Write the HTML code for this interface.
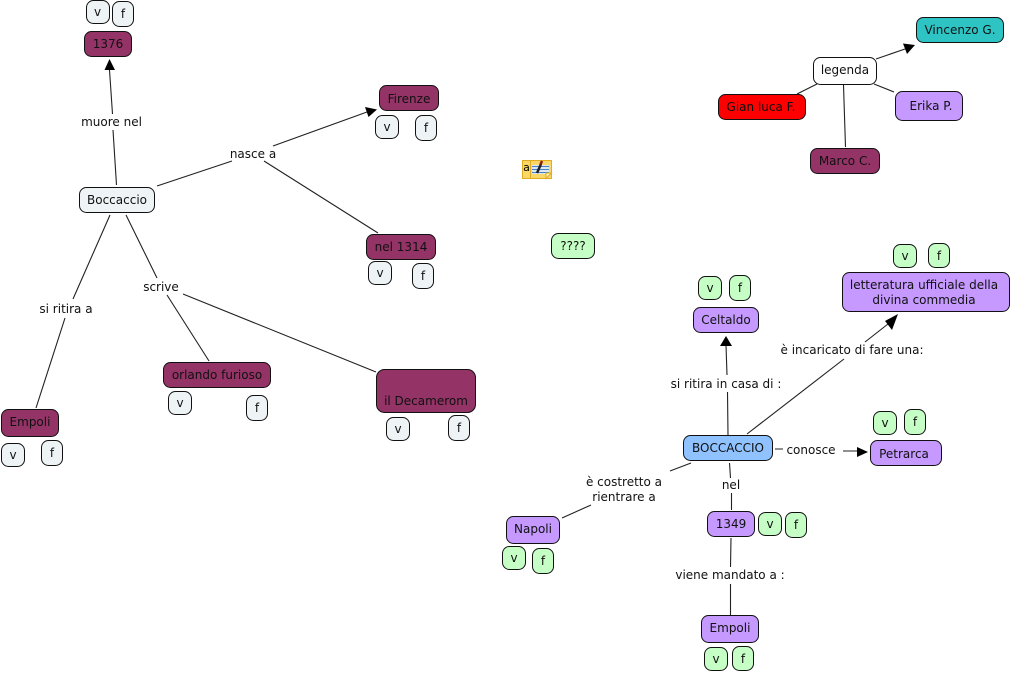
<!DOCTYPE html>
<html><head><meta charset="utf-8"><style>
html,body{margin:0;padding:0;background:#fff;width:1011px;height:673px;overflow:hidden}
svg{display:block}
text{font-family:"DejaVu Sans","Liberation Sans",sans-serif;font-size:12px;fill:#111;text-anchor:middle}
rect{stroke:#111;stroke-width:1}
.l{stroke:#222;stroke-width:1.1;fill:none}
.p{fill:#933366}.w{fill:#eef4f6}.g{fill:#c6ffc6}.u{fill:#c599ff}.b{fill:#8fc2ff}
</style></head><body>
<svg width="1011" height="673" viewBox="0 0 1011 673" xmlns="http://www.w3.org/2000/svg">
<g class="l">
<path d="M116.500 185L113 130M112.500 114L109.500 70"/>
<path d="M157 186L232 161M273 146L367 112"/>
<path d="M264 161L378 233"/>
<path d="M110 215L73 299M65 318L36 408"/>
<path d="M126 215L157 278M167 295L209 361"/>
<path d="M183 294L376 372"/>
<path d="M797 94L817 84M874 84L894 92M843.500 85L845.500 147M876 59L905 49"/>
<path d="M728 435L727.500 392M727 375L726 345"/>
<path d="M747 434L844 359M865 342L888 324"/>
<path d="M775 449L783 449M843 451L858 451"/>
<path d="M691 463L670 471M591 505L562 518"/>
<path d="M729.500 463L730.500 478M731.500 493L731.500 510"/>
<path d="M731 538L730.500 567M730.500 584L730.500 615"/>
</g>
<g fill="#000">
<polygon points="109.500,59 104.500,70 115,70"/>
<polygon points="377,109.500 365,107 368.500,117"/>
<polygon points="915,45 903,43.500 907,54"/>
<polygon points="726,336 720,346 732,346"/>
<polygon points="898,314 885,321 892,330"/>
<polygon points="868,452 857,447 857,457"/>
</g>
<rect class="w" x="86.500" y="0.500" width="23" height="23" rx="7"/><text x="97.500" y="16">v</text>
<rect class="w" x="112.500" y="1.500" width="21" height="25" rx="7"/><text x="123" y="18">f</text>
<rect class="p" x="84.500" y="31.500" width="47" height="25" rx="7"/><text x="108" y="48">1376</text>
<rect class="w" x="79.500" y="187.500" width="75" height="25" rx="7"/><text x="117" y="204">Boccaccio</text>
<rect class="p" x="379.500" y="85.500" width="59" height="25" rx="7"/><text x="409" y="103">Firenze</text>
<rect class="w" x="375.500" y="115.500" width="23" height="23" rx="7"/><text x="387" y="131">v</text>
<rect class="w" x="415.500" y="115.500" width="21" height="25" rx="7"/><text x="426" y="132">f</text>
<rect class="p" x="366.500" y="234.500" width="69" height="25" rx="7"/><text x="401" y="251">nel 1314</text>
<rect class="w" x="368.500" y="261.500" width="23" height="23" rx="7"/><text x="380" y="277">v</text>
<rect class="w" x="412.500" y="263.500" width="21" height="25" rx="7"/><text x="423" y="280">f</text>
<rect class="p" x="1.500" y="409.500" width="57" height="27" rx="7"/><text x="30" y="426">Empoli</text>
<rect class="w" x="1.500" y="443.500" width="23" height="23" rx="7"/><text x="13" y="459">v</text>
<rect class="w" x="41.500" y="440.500" width="21" height="25" rx="7"/><text x="52" y="457">f</text>
<rect class="p" x="163.500" y="362.500" width="107" height="25" rx="7"/><text x="217" y="379">orlando furioso</text>
<rect class="w" x="168.500" y="391.500" width="23" height="23" rx="7"/><text x="180" y="407">v</text>
<rect class="w" x="246.500" y="395.500" width="21" height="25" rx="7"/><text x="257" y="412">f</text>
<rect class="p" x="376.500" y="369.500" width="99" height="43" rx="8"/><text x="426" y="405">il Decamerom</text>
<rect class="w" x="386.500" y="417.500" width="23" height="23" rx="7"/><text x="398" y="433">v</text>
<rect class="w" x="448.500" y="415.500" width="21" height="25" rx="7"/><text x="459" y="432">f</text>
<rect class="g" x="551.500" y="233.500" width="43" height="25" rx="7"/><text x="573" y="250">????</text>
<rect fill="#fff" x="813.500" y="57.500" width="63" height="27" rx="7"/><text x="845" y="74">legenda</text>
<rect fill="#2fc4c4" x="916.500" y="17.500" width="87" height="25" rx="7"/><text x="960" y="34">Vincenzo G.</text>
<rect fill="#ff0000" x="718.500" y="94.500" width="87" height="25" rx="7"/><text x="761" y="111">Gian luca F.</text>
<rect class="u" x="895.500" y="91.500" width="67" height="29" rx="7"/><text x="931" y="110">Erika P.</text>
<rect class="p" x="810.500" y="148.500" width="69" height="25" rx="7"/><text x="845" y="165">Marco C.</text>
<rect class="u" x="693.500" y="307.500" width="65" height="25" rx="7"/><text x="726" y="324">Celtaldo</text>
<rect class="g" x="698.500" y="276.500" width="23" height="23" rx="7"/><text x="710" y="292">v</text>
<rect class="g" x="729.500" y="275.500" width="21" height="25" rx="7"/><text x="740" y="292">f</text>
<rect class="u" x="842.500" y="272.500" width="167" height="39" rx="7"/><text x="924" y="289">letteratura ufficiale della</text><text x="924" y="304">divina commedia</text>
<rect class="g" x="893.500" y="244.500" width="23" height="23" rx="7"/><text x="905" y="260">v</text>
<rect class="g" x="928.500" y="243.500" width="21" height="24" rx="7"/><text x="939" y="260">f</text>
<rect class="u" x="870.500" y="440.500" width="71" height="25" rx="7"/><text x="904" y="458">Petrarca</text>
<rect class="g" x="873.500" y="411.500" width="23" height="23" rx="7"/><text x="885" y="427">v</text>
<rect class="g" x="904.500" y="409.500" width="21" height="25" rx="7"/><text x="915" y="426">f</text>
<rect class="b" x="683.500" y="435.500" width="89" height="25" rx="7"/><text x="728" y="452">BOCCACCIO</text>
<rect class="u" x="707.500" y="511.500" width="47" height="25" rx="7"/><text x="731" y="528">1349</text>
<rect class="g" x="758.500" y="512.500" width="23" height="23" rx="7"/><text x="770" y="528">v</text>
<rect class="g" x="785.500" y="512.500" width="21" height="25" rx="7"/><text x="796" y="529">f</text>
<rect class="u" x="506.500" y="516.500" width="53" height="27" rx="7"/><text x="533" y="533">Napoli</text>
<rect class="g" x="502.500" y="546.500" width="23" height="23" rx="7"/><text x="514" y="562">v</text>
<rect class="g" x="532.500" y="548.500" width="21" height="25" rx="7"/><text x="543" y="565">f</text>
<rect class="u" x="701.500" y="615.500" width="57" height="27" rx="7"/><text x="730" y="632">Empoli</text>
<rect class="g" x="704.500" y="647.500" width="23" height="23" rx="7"/><text x="716" y="663">v</text>
<rect class="g" x="732.500" y="646.500" width="21" height="24" rx="7"/><text x="743" y="663">f</text>
<text x="111.500" y="126">muore nel</text>
<text x="253" y="158">nasce a</text>
<text x="66" y="313">si ritira a</text>
<text x="161" y="291">scrive</text>
<text x="726" y="388">si ritira in casa di :</text>
<text x="852" y="354">è incaricato di fare una:</text>
<text x="811" y="454">conosce</text>
<text x="624" y="486">è costretto a</text>
<text x="624" y="501">rientrare a</text>
<text x="731" y="489">nel</text>
<text x="730" y="579">viene mandato a :</text>
<g>
<rect x="522.500" y="160.500" width="29" height="18" fill="#fbd768" style="stroke:#e0ac20"/>
<line x1="530.500" y1="161" x2="530.500" y2="178" stroke="#e0ac20"/>
<rect x="532" y="165" width="17" height="9" fill="#dce9f5" style="stroke:none"/>
<path d="M532 166.500H549M532 169.500H549M532 172.500H549" stroke="#4a7fc0" fill="none"/>
<path d="M537 173L541 164" stroke="#222" stroke-width="2.500" fill="none"/>
<path d="M540.500 164.500L542 161" stroke="#8c1c1c" stroke-width="2.500" fill="none"/>
<polygon points="546,178.500 551.500,173 546,173" fill="#fff3c0" stroke="#e0ac20"/>
<text x="526.500" y="171" style="font-size:11px;fill:#000">a</text>
</g>
</svg>
</body></html>
